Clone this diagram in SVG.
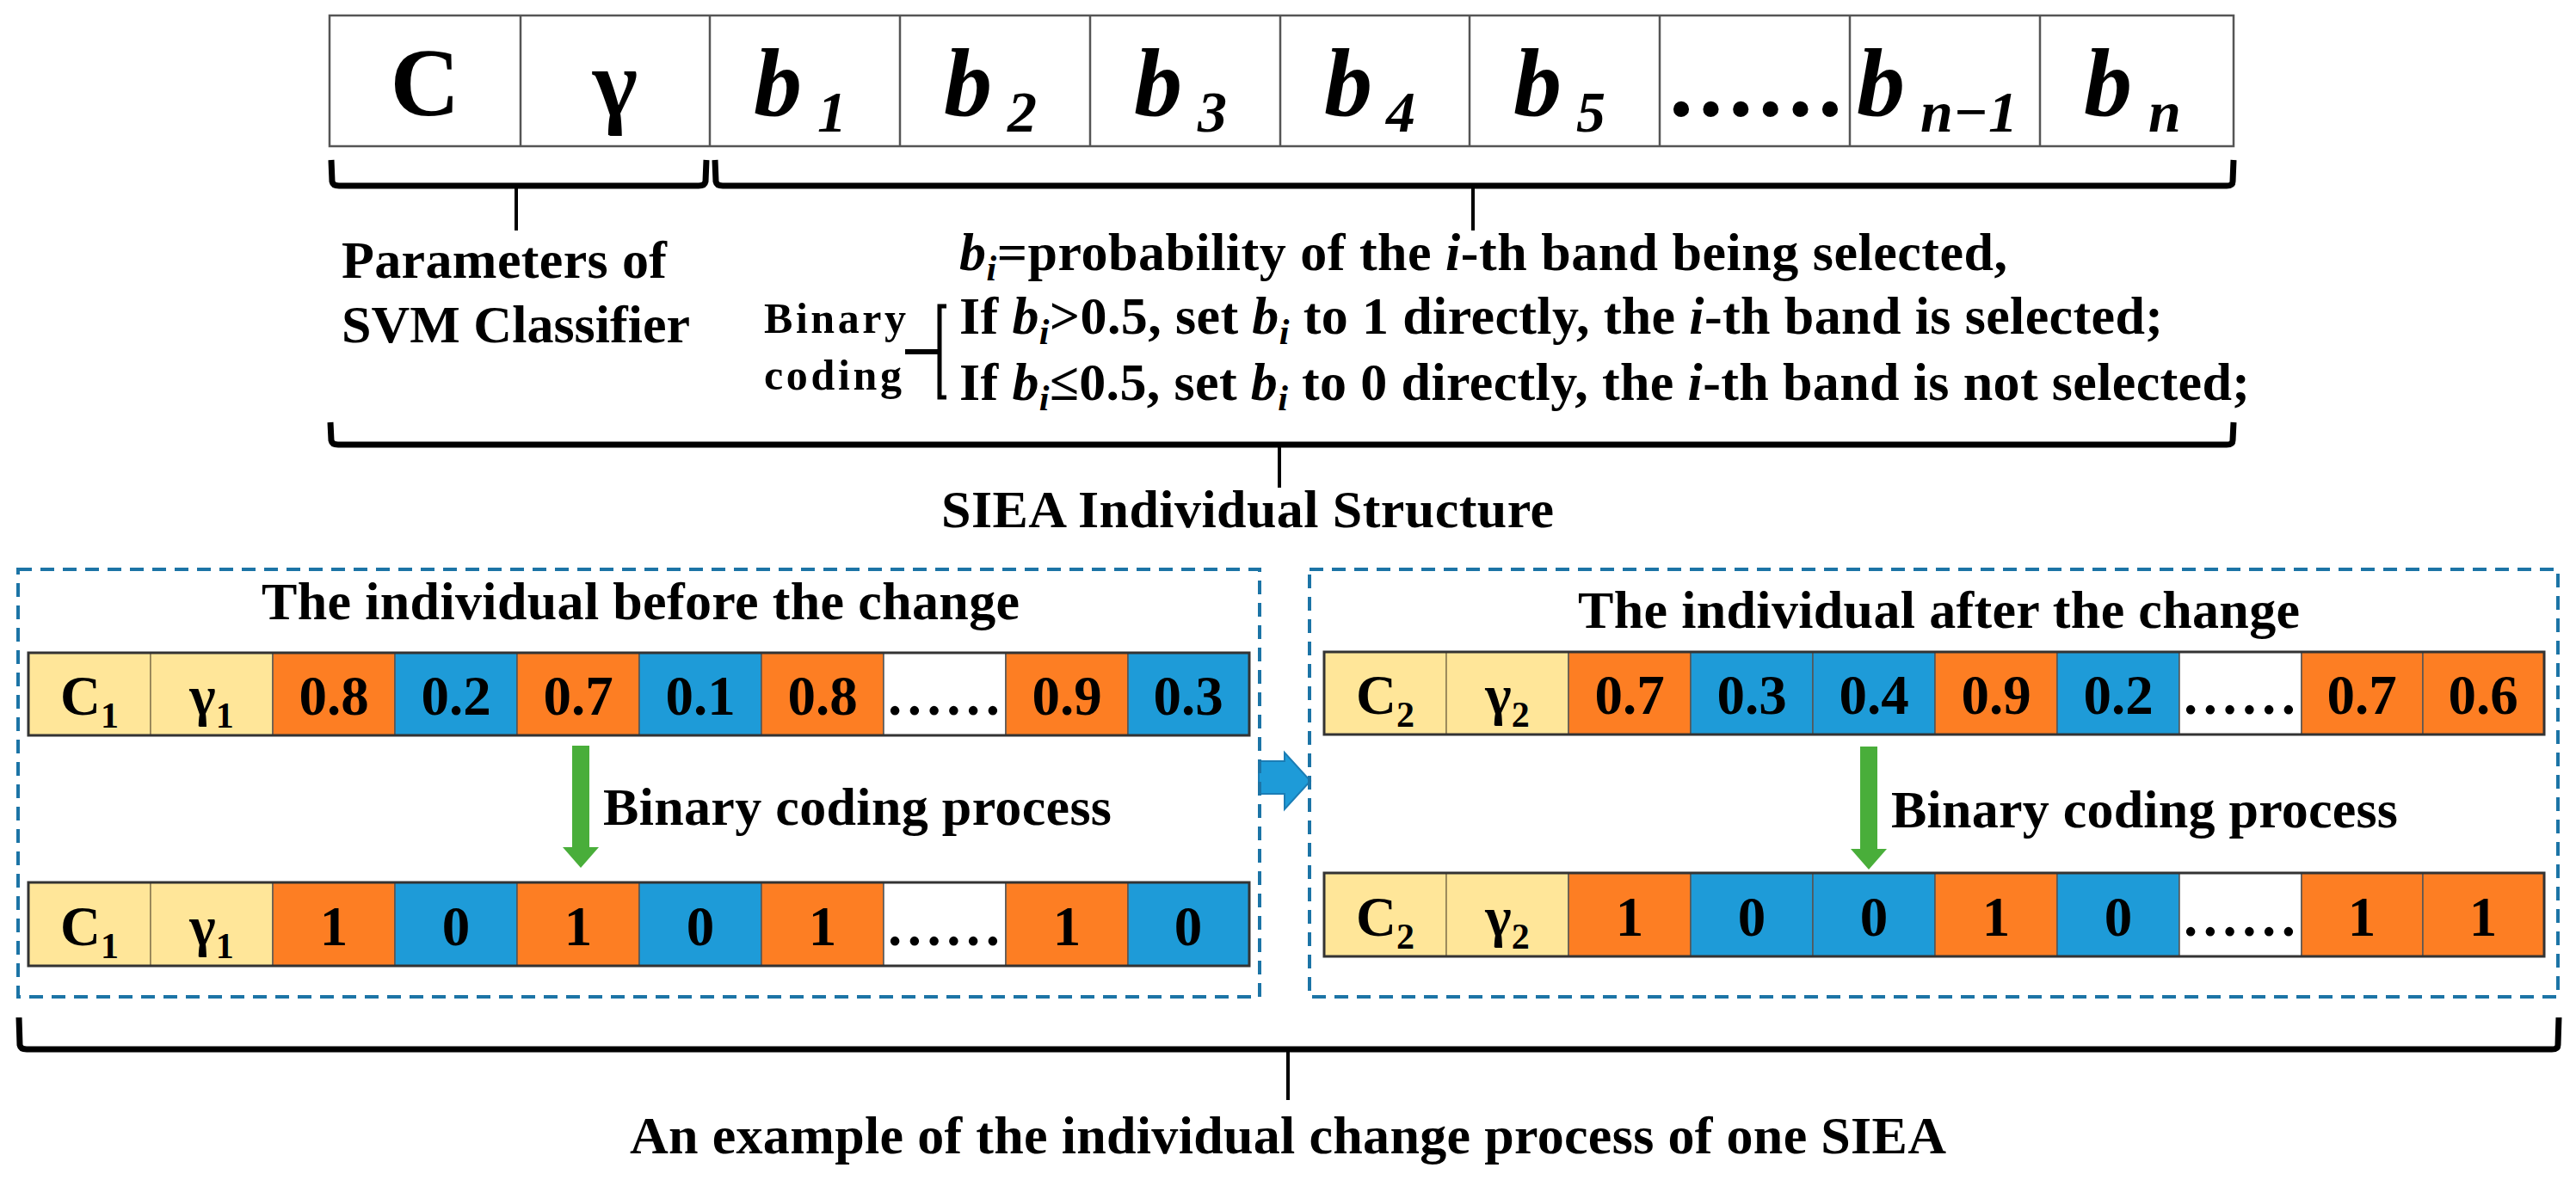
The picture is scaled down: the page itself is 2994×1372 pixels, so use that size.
<svg xmlns="http://www.w3.org/2000/svg" width="2994" height="1372" viewBox="0 0 2994 1372">
<style>
text{font-family:"Liberation Serif","Times New Roman",serif;font-weight:bold;fill:#000}
.cell{stroke:#555;stroke-width:2.5;fill:#fff}
.y{fill:#FFE699;stroke:#8a7a50;stroke-width:1.5}
.o{fill:#FD7E23;stroke:#555;stroke-width:1.5}
.b{fill:#1E9BD8;stroke:#555;stroke-width:1.5}
.w{fill:#fff;stroke:#555;stroke-width:1.5}
.rowline{fill:none;stroke:#333;stroke-width:3}
.big{font-size:112px}
.bi{font-size:112px;font-style:italic}
.sub{font-size:68px;font-style:italic}
.lbl{font-size:62px}
.val{font-size:65px;text-anchor:middle}
.brace{fill:none;stroke:#000;stroke-width:7;stroke-linejoin:round}
.tick{stroke:#000;stroke-width:4}
.dash{fill:none;stroke:#1C74A6;stroke-width:4;stroke-dasharray:16 10}
</style>
<g id="top-structure">
<rect class="cell" x="383" y="18" width="2213" height="152"/>
<g stroke="#555" stroke-width="2.5">
<line x1="605" y1="18" x2="605" y2="170"/><line x1="825" y1="18" x2="825" y2="170"/>
<line x1="1046" y1="18" x2="1046" y2="170"/><line x1="1267" y1="18" x2="1267" y2="170"/>
<line x1="1488" y1="18" x2="1488" y2="170"/><line x1="1708" y1="18" x2="1708" y2="170"/>
<line x1="1929" y1="18" x2="1929" y2="170"/><line x1="2150" y1="18" x2="2150" y2="170"/>
<line x1="2371" y1="18" x2="2371" y2="170"/>
</g>
<text class="big" x="494" y="134" text-anchor="middle">C</text>
<text class="big" x="715" y="134" text-anchor="middle">γ</text>
<text class="bi" x="876" y="134">b<tspan class="sub" x="950" y="153">1</tspan></text>
<text class="bi" x="1097" y="134">b<tspan class="sub" x="1171" y="153">2</tspan></text>
<text class="bi" x="1318" y="134">b<tspan class="sub" x="1392" y="153">3</tspan></text>
<text class="bi" x="1539" y="134">b<tspan class="sub" x="1611" y="153">4</tspan></text>
<text class="bi" x="1759" y="134">b<tspan class="sub" x="1832" y="153">5</tspan></text>
<text class="big" x="1940" y="134" textLength="201">......</text>
<text class="bi" x="2158" y="134">b<tspan class="sub" x="2232" y="153">n−1</tspan></text>
<text class="bi" x="2422" y="134">b<tspan class="sub" x="2497" y="153">n</tspan></text>
</g>
<g id="connectors">
<path class="brace" d="M385,186 L386,211 Q387,216 394,216 L812,216 Q819,216 820,211 L821,186"/>
<line class="tick" x1="600" y1="214" x2="600" y2="268"/>
<path class="brace" d="M831,186 L832,211 Q833,216 840,216 L2588,216 Q2595,216 2595,211 L2596,186"/>
<line class="tick" x1="1712" y1="214" x2="1712" y2="268"/>
<path class="brace" d="M384,491 L385,512 Q386,517 393,517 L2588,517 Q2595,517 2595,512 L2596,491"/>
<line class="tick" x1="1487" y1="515" x2="1487" y2="567"/>
<path class="brace" d="M22,1183 L23,1215 Q24,1220 31,1220 L2966,1220 Q2973,1220 2973,1215 L2974,1183"/>
<line class="tick" x1="1497" y1="1218" x2="1497" y2="1279"/>
<path d="M1100,356 H1092 V462 H1100" fill="none" stroke="#000" stroke-width="5"/>
<line x1="1052" y1="409" x2="1092" y2="409" stroke="#000" stroke-width="6"/>
<path d="M1463,885 H1493 V875 L1523,908 L1493,941 V923 H1463 Z" fill="#1E9BD8" stroke="#1B7DB5" stroke-width="2"/>
<path d="M665,867 H685 V985 H696 L675,1009 L654,985 H665 Z" fill="#49AE3A"/>
<path d="M2162,868 H2182 V987 H2193 L2172,1011 L2151,987 H2162 Z" fill="#49AE3A"/>
</g>
<g id="labels-top">
<text class="lbl" x="397" y="323" textLength="378">Parameters of</text>
<text class="lbl" x="397" y="398" textLength="405">SVM Classifier</text>
<text class="lbl" x="1115" y="314" textLength="1218"><tspan font-style="italic">b<tspan font-size="42" dy="12">i</tspan></tspan><tspan dy="-12">=probability of the </tspan><tspan font-style="italic">i</tspan>-th band being selected,</text>
<text font-size="50" x="888" y="387" textLength="165">Binary</text>
<text font-size="50" x="888" y="453" textLength="160">coding</text>
<text class="lbl" x="1115" y="388" textLength="1399">If <tspan font-style="italic">b<tspan font-size="42" dy="12">i</tspan></tspan><tspan dy="-12">&gt;0.5, set </tspan><tspan font-style="italic">b<tspan font-size="42" dy="12">i</tspan></tspan><tspan dy="-12"> to 1 directly, the </tspan><tspan font-style="italic">i</tspan>-th band is selected;</text>
<text class="lbl" x="1115" y="465" textLength="1500">If <tspan font-style="italic">b<tspan font-size="42" dy="12">i</tspan></tspan><tspan dy="-12">≤0.5, set </tspan><tspan font-style="italic">b<tspan font-size="42" dy="12">i</tspan></tspan><tspan dy="-12"> to 0 directly, the </tspan><tspan font-style="italic">i</tspan>-th band is not selected;</text>
<text class="lbl" x="1094" y="613" textLength="712">SIEA Individual Structure</text>
<text class="lbl" x="732" y="1341" textLength="1530">An example of the individual change process of one SIEA</text>
</g>
<g id="before">
<rect class="dash" x="21" y="662" width="1443" height="497"/>
<text class="lbl" x="304" y="720" textLength="881">The individual before the change</text>
<g id="before-row1">
<rect class="y" x="33" y="759" width="142" height="96"/><rect class="y" x="175" y="759" width="142" height="96"/>
<rect class="o" x="317" y="759" width="142" height="96"/><rect class="b" x="459" y="759" width="142" height="96"/>
<rect class="o" x="601" y="759" width="142" height="96"/><rect class="b" x="743" y="759" width="142" height="96"/>
<rect class="o" x="885" y="759" width="142" height="96"/><rect class="w" x="1027" y="759" width="142" height="96"/>
<rect class="o" x="1169" y="759" width="142" height="96"/><rect class="b" x="1311" y="759" width="141" height="96"/>
<rect class="rowline" x="33" y="759" width="1419" height="96"/>
<text class="val" x="104" y="831">C<tspan font-size="42" dy="15">1</tspan></text>
<text class="val" x="246" y="831">γ<tspan font-size="42" dy="15">1</tspan></text>
<text class="val" x="388" y="831">0.8</text><text class="val" x="530" y="831">0.2</text>
<text class="val" x="672" y="831">0.7</text><text class="val" x="814" y="831">0.1</text>
<text class="val" x="956" y="831">0.8</text><text font-size="65" x="1032" y="831" textLength="130">......</text>
<text class="val" x="1240" y="831">0.9</text><text class="val" x="1381" y="831">0.3</text>
</g>
<text class="lbl" x="701" y="959" textLength="591">Binary coding process</text>
<g id="before-row2">
<rect class="y" x="33" y="1026" width="142" height="97"/><rect class="y" x="175" y="1026" width="142" height="97"/>
<rect class="o" x="317" y="1026" width="142" height="97"/><rect class="b" x="459" y="1026" width="142" height="97"/>
<rect class="o" x="601" y="1026" width="142" height="97"/><rect class="b" x="743" y="1026" width="142" height="97"/>
<rect class="o" x="885" y="1026" width="142" height="97"/><rect class="w" x="1027" y="1026" width="142" height="97"/>
<rect class="o" x="1169" y="1026" width="142" height="97"/><rect class="b" x="1311" y="1026" width="141" height="97"/>
<rect class="rowline" x="33" y="1026" width="1419" height="97"/>
<text class="val" x="104" y="1099">C<tspan font-size="42" dy="15">1</tspan></text>
<text class="val" x="246" y="1099">γ<tspan font-size="42" dy="15">1</tspan></text>
<text class="val" x="388" y="1099">1</text><text class="val" x="530" y="1099">0</text>
<text class="val" x="672" y="1099">1</text><text class="val" x="814" y="1099">0</text>
<text class="val" x="956" y="1099">1</text><text font-size="65" x="1032" y="1099" textLength="130">......</text>
<text class="val" x="1240" y="1099">1</text><text class="val" x="1381" y="1099">0</text>
</g>
</g>
<g id="after">
<rect class="dash" x="1522" y="662" width="1451" height="497"/>
<text class="lbl" x="1834" y="730" textLength="839">The individual after the change</text>
<g id="after-row1">
<rect class="y" x="1539" y="758" width="142" height="96"/><rect class="y" x="1681" y="758" width="142" height="96"/>
<rect class="o" x="1823" y="758" width="142" height="96"/><rect class="b" x="1965" y="758" width="142" height="96"/>
<rect class="b" x="2107" y="758" width="142" height="96"/><rect class="o" x="2249" y="758" width="142" height="96"/>
<rect class="b" x="2391" y="758" width="142" height="96"/><rect class="w" x="2533" y="758" width="142" height="96"/>
<rect class="o" x="2675" y="758" width="141" height="96"/><rect class="o" x="2816" y="758" width="141" height="96"/>
<rect class="rowline" x="1539" y="758" width="1418" height="96"/>
<text class="val" x="1610" y="830">C<tspan font-size="42" dy="15">2</tspan></text>
<text class="val" x="1752" y="830">γ<tspan font-size="42" dy="15">2</tspan></text>
<text class="val" x="1894" y="830">0.7</text><text class="val" x="2036" y="830">0.3</text>
<text class="val" x="2178" y="830">0.4</text><text class="val" x="2320" y="830">0.9</text>
<text class="val" x="2462" y="830">0.2</text><text font-size="65" x="2538" y="830" textLength="130">......</text>
<text class="val" x="2745" y="830">0.7</text><text class="val" x="2886" y="830">0.6</text>
</g>
<text class="lbl" x="2198" y="962" textLength="589">Binary coding process</text>
<g id="after-row2">
<rect class="y" x="1539" y="1015" width="142" height="97"/><rect class="y" x="1681" y="1015" width="142" height="97"/>
<rect class="o" x="1823" y="1015" width="142" height="97"/><rect class="b" x="1965" y="1015" width="142" height="97"/>
<rect class="b" x="2107" y="1015" width="142" height="97"/><rect class="o" x="2249" y="1015" width="142" height="97"/>
<rect class="b" x="2391" y="1015" width="142" height="97"/><rect class="w" x="2533" y="1015" width="142" height="97"/>
<rect class="o" x="2675" y="1015" width="141" height="97"/><rect class="o" x="2816" y="1015" width="141" height="97"/>
<rect class="rowline" x="1539" y="1015" width="1418" height="97"/>
<text class="val" x="1610" y="1088">C<tspan font-size="42" dy="15">2</tspan></text>
<text class="val" x="1752" y="1088">γ<tspan font-size="42" dy="15">2</tspan></text>
<text class="val" x="1894" y="1088">1</text><text class="val" x="2036" y="1088">0</text>
<text class="val" x="2178" y="1088">0</text><text class="val" x="2320" y="1088">1</text>
<text class="val" x="2462" y="1088">0</text><text font-size="65" x="2538" y="1088" textLength="130">......</text>
<text class="val" x="2745" y="1088">1</text><text class="val" x="2886" y="1088">1</text>
</g>
</g>
</svg>
